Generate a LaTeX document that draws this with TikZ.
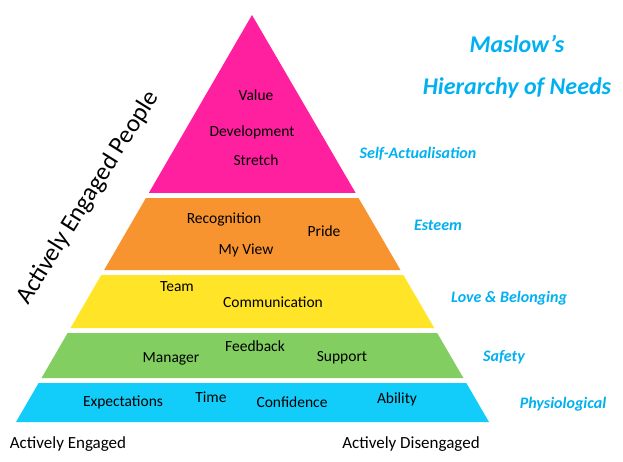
\documentclass[tikz,border=0pt]{standalone}
\usepackage{fontspec}
\setmainfont{Carlito}
\usetikzlibrary{calc, positioning}
\definecolor{pinklevel}{RGB}{255, 32, 160}
\definecolor{orangelevel}{RGB}{248, 148, 48}
\definecolor{yellowlevel}{RGB}{255, 228, 40}
\definecolor{greenlevel}{RGB}{130, 206, 96}
\definecolor{bluelevel}{RGB}{18, 204, 250}
\definecolor{labelblue}{RGB}{0, 176, 240}

\begin{document}
\begin{tikzpicture}[
    x=1pt, y=-1pt,
    need/.style={
        font=\fontsize{15.5}{18}\selectfont, text=black, inner sep=0pt
    },
    levelname/.style={
        font=\fontsize{16}{19}\selectfont\bfseries\itshape, text=labelblue, inner sep=0pt
    },
    titletext/.style={
        font=\fontsize{24}{28}\selectfont\bfseries\itshape, text=labelblue, inner sep=0pt
    },
    axislabel/.style={
        font=\fontsize{17}{20}\selectfont, text=black, inner sep=0pt
    }
]
\useasboundingbox (0,0) rectangle (623,461);

% Pyramid outline (apex and base corners)
\coordinate (apex) at (252,15);
\coordinate (baseleft) at (16,422);
\coordinate (baseright) at (489,422);

% Bands: top y / bottom y / colour
\foreach \ytop/\ybot/\col in {15/193/pinklevel, 198/270/orangelevel, 275/328/yellowlevel,
                              333/378/greenlevel, 383/422/bluelevel}{
    \pgfmathsetmacro\ta{(\ytop-15)/407}
    \pgfmathsetmacro\tb{(\ybot-15)/407}
    \fill[\col] ($(apex)!\ta!(baseleft)$) -- ($(apex)!\ta!(baseright)$)
        -- ($(apex)!\tb!(baseright)$) -- ($(apex)!\tb!(baseleft)$) -- cycle;
}

% Self-Actualisation band
\node[need] (value) at (256,95) {Value};
\node[need] (development) at (252,132) {Development};
\node[need] (stretch) at (256,160) {Stretch};

% Esteem band
\node[need] (recognition) at (224,219) {Recognition};
\node[need] (pride) at (324,231) {Pride};
\node[need] (myview) at (246,250) {My View};

% Love & Belonging band
\node[need] (team) at (177,287) {Team};
\node[need] (communication) at (273,302) {Communication};

% Safety band
\node[need] (manager) at (171,359) {Manager};
\node[need] (feedback) at (255,346) {Feedback};
\node[need] (support) at (342,358) {Support};

% Physiological band
\node[need] (expectations) at (123,402) {Expectations};
\node[need] (time) at (211,397) {Time};
\node[need] (confidence) at (292,402) {Confidence};
\node[need] (ability) at (397,399) {Ability};

% Level names on the right
\node[levelname] (selfact) at (418,154) {Self-Actualisation};
\node[levelname] (esteem) at (438,225) {Esteem};
\node[levelname] (love) at (509,298) {Love \& Belonging};
\node[levelname] (safety) at (504,357) {Safety};
\node[levelname] (physio) at (563,404) {Physiological};

% Title
\node[titletext] (maslow) at (517,44) {Maslow’s};
\node[titletext] (hierarchy) at (517,88) {Hierarchy of Needs};

% Engagement labels
\node[axislabel, rotate=58] (people) at (88,198) {\fontsize{25}{30}\selectfont Actively Engaged People};
\node[axislabel] (engaged) at (68,444) {Actively Engaged};
\node[axislabel] (disengaged) at (411,444) {Actively Disengaged};

\end{tikzpicture}
\end{document}
